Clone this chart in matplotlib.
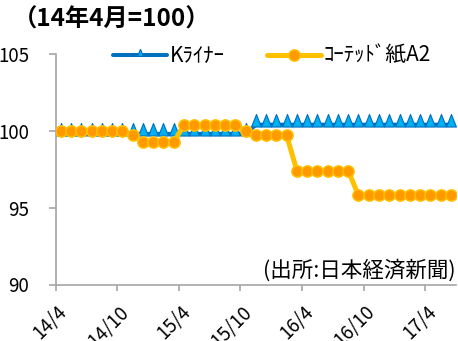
import numpy as np
import pandas as pd
import matplotlib
matplotlib.use("Agg")
import matplotlib.pyplot as plt
import matplotlib.transforms as mtransforms
from matplotlib.lines import Line2D

plt.rcParams['font.family'] = ['Noto Sans CJK JP', 'DejaVu Sans']

# monthly index, 2014/4 = 100
months = pd.period_range('2014-04', periods=39, freq='M')
kliner = [99.8, 99.8, 99.8, 99.8, 99.8, 99.8, 99.8, 99.8, 99.8, 99.8,
          99.8, 99.8, 99.8, 99.8, 99.8, 99.8, 99.8, 99.8, 99.8,
          100.4, 100.4, 100.4, 100.4, 100.4, 100.4, 100.4, 100.4, 100.4, 100.4,
          100.4, 100.4, 100.4, 100.4, 100.4, 100.4, 100.4, 100.4, 100.4, 100.4]
coated = [100.0, 100.0, 100.0, 100.0, 100.0, 100.0, 100.0, 99.7,
          99.25, 99.25, 99.25, 99.25,
          100.4, 100.4, 100.4, 100.4, 100.4, 100.4, 100.0,
          99.7, 99.7, 99.7, 99.7,
          97.4, 97.4, 97.4, 97.4, 97.4, 97.4,
          95.8, 95.8, 95.8, 95.8, 95.8, 95.8, 95.8, 95.8, 95.8, 95.8]
tick_labels = ['14/4', '14/10', '15/4', '15/10', '16/4', '16/10', '17/4']
yticks = [90, 95, 100, 105]

W, H = 458, 341
fig = plt.figure(figsize=(W / 100, H / 100), dpi=100)
ax = fig.add_axes([55.7 / W, (H - 284.5) / H, (456 - 55.7) / W, (284.5 - 54) / H])

# triangle sitting on the line, data point near its base
tri = [(0, 1.0), (-0.45, -0.14), (0.45, -0.14), (0, 1.0)]

x = np.arange(len(months))
ax.plot(x, kliner, color='#0070C0', lw=2.9, marker=tri, ms=15.8,
        mfc='#00B0F0', mec='#0070C0', mew=0.8, zorder=2)
ax.plot(x, coated, color='#FFC000', lw=3.6, marker='o', ms=8.1,
        mfc='#FF9900', mec='#FFC000', mew=1.1, zorder=3)

ax.set_xlim(-0.5, len(months) - 0.5)
ax.set_ylim(90, 105)
ax.set_xticks(np.arange(-0.5, len(months) - 1, 6))
ax.set_xticklabels(tick_labels, fontsize=13.5, rotation=45,
                   ha='right', va='top', rotation_mode='anchor')
ax.set_yticks(yticks)
ax.set_yticklabels([str(v) for v in yticks], fontsize=13.5)

for side in ('top', 'right'):
    ax.spines[side].set_visible(False)
for side in ('left', 'bottom'):
    ax.spines[side].set_color('#A6A6A6')
    ax.spines[side].set_linewidth(1.2)
ax.tick_params(axis='x', direction='out', length=4.3, width=1.2,
               color='#A6A6A6', pad=8)
ax.tick_params(axis='y', direction='out', length=5, width=1.2,
               color='#A6A6A6', pad=14)

shift = mtransforms.ScaledTranslation(1 / 100, 0, fig.dpi_scale_trans)
for lab in ax.get_xticklabels():
    lab.set_transform(lab.get_transform() + shift)

handles = [
    Line2D([], [], color='#0070C0', lw=2.9, marker=tri, ms=9,
           mfc='#00B0F0', mec='#0070C0', mew=0.8, solid_capstyle='round'),
    Line2D([], [], color='#FFC000', lw=3.6, marker='o', ms=8.1,
           mfc='#FF9900', mec='#FFC000', mew=1.1, solid_capstyle='round'),
]
fig.legend(handles, ['Kﾗｲﾅｰ', 'ｺｰﾃｯﾄﾞ紙A2'], loc='center',
           bbox_to_anchor=(272 / W, 1 - 56 / H), ncol=2, frameon=False,
           fontsize=15, handlelength=2.6, handletextpad=0.15,
           columnspacing=2.0, borderpad=0)

fig.text(13 / W, 1 - 20 / H, '（14年4月=100）', fontsize=17.5, fontweight='bold',
         ha='left', va='center')
fig.text(456 / W, 1 - 271 / H, '(出所:日本経済新聞)', fontsize=15.5,
         ha='right', va='center')

fig.savefig('out.png', dpi=100)
